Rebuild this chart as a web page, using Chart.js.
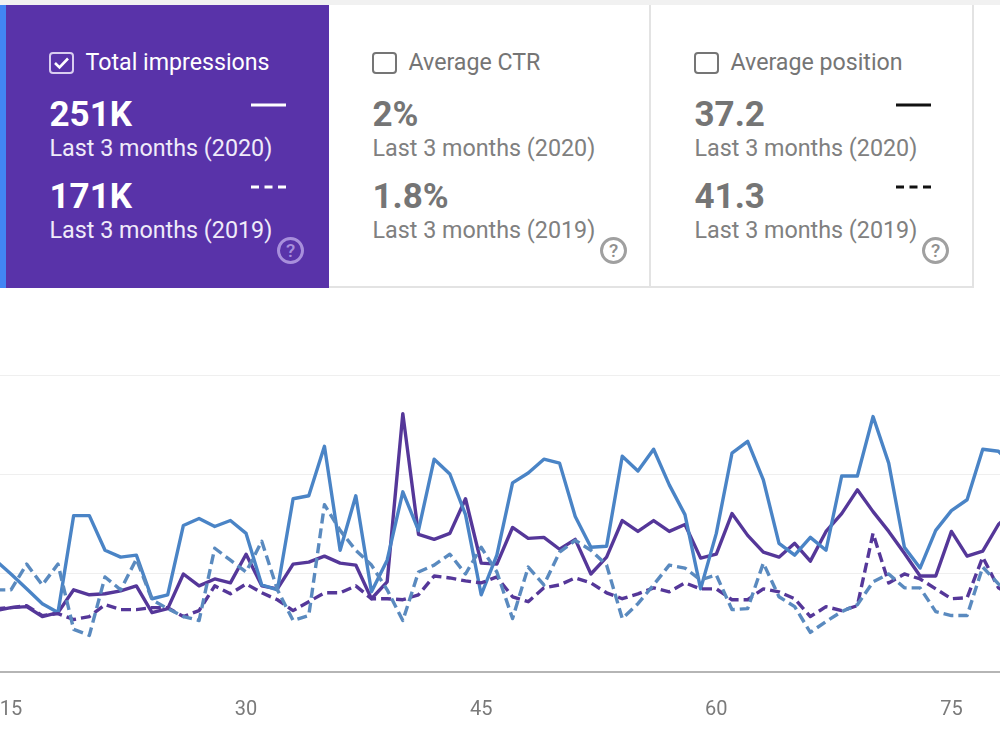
<!DOCTYPE html>
<html lang="en">
<head>
<meta charset="utf-8">
<title>Performance</title>
<script src="https://cdn.jsdelivr.net/npm/chart.js@4"></script>
<style>
    html, body { margin: 0; padding: 0; width: 1000px; height: 750px; overflow: hidden; background: #fff; font-family: Roboto, sans-serif; }
    .topbar { position: absolute; left: 0; top: 0; width: 1000px; height: 5px; background: #f1f1f1; }
    .stripe { position: absolute; left: 0; top: 5px; width: 6px; height: 283px; background: #4285f4; }
    .tile { position: absolute; top: 5px; height: 283px; box-sizing: border-box; color: #757575; border-bottom: 2px solid #e3e3e3; }
    .tile.on { color: #fff; background: #5933a9; border-bottom: 0; }
    .tile.sep { border-right: 2px solid #e3e3e3; }
    .tile span, .tile i { position: absolute; white-space: nowrap; font-style: normal; }
    .title { font-size: 23.2px; line-height: 30px; top: 42px; }
    .val { font-size: 35px; line-height: 40px; font-weight: 700; }
    .sub { font-size: 23.3px; line-height: 30px; color: #808080; }
    .on .sub { color: #f0ebf9; }
    .box { top: 47px; width: 25px; height: 22px; box-sizing: border-box; border: 2px solid #757575; border-radius: 4px; }
    .on .box { border-color: #d9cdf0; }
    .help { top: 232px; width: 27px; height: 27px; box-sizing: border-box; border: 3px solid #a0a0a0; border-radius: 50%; color: #8f8f8f; font-size: 19px; font-weight: 500; line-height: 21px; text-align: center; }
    .on .help { border-color: #a88fdc; color: #a88fdc; }
    #plot { position: absolute; left: 0; top: 375px; width: 1000px; height: 365px; }
</style>
</head>
<body>
<div class="topbar"></div>
<div class="stripe"></div>
<div id="tiles"></div>
<div id="plot"><canvas id="perfChart"></canvas></div>

<script>
/* Données des tuiles */
const tileTitles = ['Total impressions', 'Average CTR', 'Average position'];
const values2020 = ['251K', '2%', '37.2'];
const values2019 = ['171K', '1.8%', '41.3'];
const period2020 = 'Last 3 months (2020)';
const period2019 = 'Last 3 months (2019)';

/* Données du graphique */
const days = [14, 15, 16, 17, 18, 19, 20, 21, 22, 23, 24, 25, 26, 27, 28, 29, 30, 31, 32, 33, 34, 35,
    36, 37, 38, 39, 40, 41, 42, 43, 44, 45, 46, 47, 48, 49, 50, 51, 52, 53, 54, 55, 56, 57,
    58, 59, 60, 61, 62, 63, 64, 65, 66, 67, 68, 69, 70, 71, 72, 73, 74, 75, 76, 77, 78, 79];
const dayTicks = [15, 30, 45, 60, 75];

const clicks2020 = [1.13, 0.99, 0.84, 0.69, 0.60, 1.58, 1.58, 1.23, 1.16, 1.18, 0.74, 0.78, 1.48, 1.55, 1.47, 1.53, 1.40, 0.88, 0.83, 1.75, 1.78, 2.28,
    1.23, 1.78, 0.81, 1.13, 1.82, 1.43, 2.15, 2.00, 1.59, 0.78, 1.18, 1.91, 2.01, 2.15, 2.11, 1.57, 1.26, 1.27, 2.18, 2.03, 2.25, 1.89,
    1.59, 0.84, 1.40, 2.21, 2.33, 1.94, 1.30, 1.18, 1.36, 1.23, 1.98, 1.98, 2.58, 2.11, 1.26, 1.05, 1.43, 1.63, 1.74, 2.25, 2.23, 2.07];
const impressions2020 = [0.62, 0.65, 0.66, 0.56, 0.60, 0.83, 0.78, 0.79, 0.82, 0.87, 0.60, 0.64, 0.99, 0.87, 0.94, 0.90, 1.19, 0.87, 0.84, 1.09, 1.11, 1.17,
    1.10, 1.08, 0.74, 0.91, 2.61, 1.39, 1.34, 1.40, 1.75, 1.10, 1.09, 1.46, 1.35, 1.36, 1.24, 1.34, 0.99, 1.16, 1.53, 1.42, 1.53, 1.42,
    1.49, 1.15, 1.19, 1.60, 1.38, 1.21, 1.16, 1.30, 1.12, 1.42, 1.60, 1.84, 1.62, 1.42, 1.20, 0.97, 0.97, 1.42, 1.17, 1.22, 1.49, 1.64];
const clicks2019 = [0.83, 0.83, 1.09, 0.88, 1.09, 0.43, 0.37, 0.96, 0.83, 1.14, 0.73, 0.64, 0.56, 0.52, 1.25, 1.13, 1.01, 1.32, 0.83, 0.52, 0.57, 1.69,
    1.43, 1.23, 1.08, 0.83, 0.52, 1.01, 1.08, 1.19, 0.99, 1.26, 1.01, 0.54, 1.06, 0.88, 1.21, 1.33, 1.23, 1.08, 0.54, 0.69, 0.88, 1.08,
    1.05, 0.93, 0.98, 0.63, 0.64, 1.10, 0.76, 0.66, 0.40, 0.51, 0.61, 0.68, 0.91, 0.99, 0.85, 0.85, 0.61, 0.57, 0.57, 1.06, 0.89, 0.73];
const impressions2019 = [0.64, 0.65, 0.67, 0.57, 0.59, 0.53, 0.56, 0.68, 0.63, 0.63, 0.65, 0.65, 0.56, 0.62, 0.87, 0.79, 0.89, 0.80, 0.73, 0.62, 0.71, 0.80,
    0.80, 0.87, 0.74, 0.74, 0.73, 0.78, 0.97, 0.95, 0.92, 0.90, 0.96, 0.76, 0.71, 0.85, 0.88, 0.95, 0.90, 0.80, 0.74, 0.79, 0.85, 0.81,
    0.90, 0.84, 0.84, 0.73, 0.73, 0.84, 0.81, 0.74, 0.56, 0.66, 0.62, 0.67, 1.40, 0.90, 0.99, 0.94, 0.84, 0.74, 0.75, 1.16, 0.85, 0.76];

const BLUE = '#4a84c6';
const BLUE_DASHED = '#5a8abf';
const PURPLE = '#553799';

document.addEventListener('DOMContentLoaded', () => {

    /* 1. TUILES */
    const tiles = document.getElementById('tiles');
    const lefts = [6, 329, 651];
    const widths = [323, 322, 323];
    const swatchColors = ['#fff', null, '#111'];
    const pad = 43.5;

    tileTitles.forEach((title, i) => {
        const swatch = swatchColors[i] ? `
            <svg style="position:absolute;left:245px;top:95px" width="36" height="95">
                <line x1="0" y1="5" x2="35" y2="5" stroke="${swatchColors[i]}" stroke-width="3"/>
                <line x1="0" y1="87" x2="35" y2="87" stroke="${swatchColors[i]}" stroke-width="3" stroke-dasharray="8 5.5"/>
            </svg>` : '';
        const check = i === 0 ? `
            <svg style="position:absolute;left:43px;top:47px" width="25" height="22">
                <path d="M6 11 L10.5 15.5 L19 6.5" fill="none" stroke="#fff" stroke-width="2.6"/>
            </svg>` : '';

        const tile = document.createElement('div');
        tile.className = 'tile' + (i === 0 ? ' on' : ' sep');
        tile.style.left = lefts[i] + 'px';
        tile.style.width = widths[i] + 'px';
        tile.innerHTML = `
            <i class="box" style="left:43px"></i>${check}
            <span class="title" style="left:79.5px">${title}</span>
            <span class="val" style="left:${pad}px;top:90px">${values2020[i]}</span>
            <span class="sub" style="left:${pad}px;top:128px">${period2020}</span>
            <span class="val" style="left:${pad}px;top:172px">${values2019[i]}</span>
            <span class="sub" style="left:${pad}px;top:210px">${period2019}</span>
            <i class="help" style="left:271px">?</i>${swatch}`;
        tiles.appendChild(tile);
    });

    /* 2. GRAPHIQUE */
    const lineStyle = (data, color, dashed) => ({
        data,
        borderColor: color,
        borderWidth: 3.4,
        borderDash: dashed ? [10, 5] : [],
        borderJoinStyle: 'round',
        pointRadius: 0,
        tension: 0,
        fill: false
    });

    new Chart(document.getElementById('perfChart'), {
        type: 'line',
        data: {
            labels: days,
            datasets: [
                lineStyle(clicks2019, BLUE_DASHED, true),
                lineStyle(impressions2019, PURPLE, true),
                lineStyle(clicks2020, BLUE, false),
                lineStyle(impressions2020, PURPLE, false)
            ]
        },
        options: {
            responsive: true,
            maintainAspectRatio: false,
            animation: false,
            layout: { padding: 0 },
            plugins: { legend: { display: false }, tooltip: { enabled: false } },
            scales: {
                x: {
                    type: 'linear',
                    min: 14.3,
                    max: 78.1,
                    afterBuildTicks: (axis) => { axis.ticks = dayTicks.map(value => ({ value })); },
                    // l'axe va jusqu'aux bords du canvas, sans marge pour les libellés
                    afterFit: (axis) => { axis.paddingLeft = 0; axis.paddingRight = 0; },
                    grid: { display: false },
                    border: { color: '#b5b5b5', width: 2 },
                    ticks: {
                        color: '#7a7a7a',
                        font: { family: 'Roboto', size: 20 },
                        maxRotation: 0,
                        autoSkip: false,
                        padding: 18
                    }
                },
                y: {
                    min: 0,
                    max: 3,
                    grid: { color: '#efefef', drawTicks: false },
                    border: { display: false },
                    ticks: { display: false, stepSize: 1 }
                }
            }
        }
    });
});
</script>
</body>
</html>
